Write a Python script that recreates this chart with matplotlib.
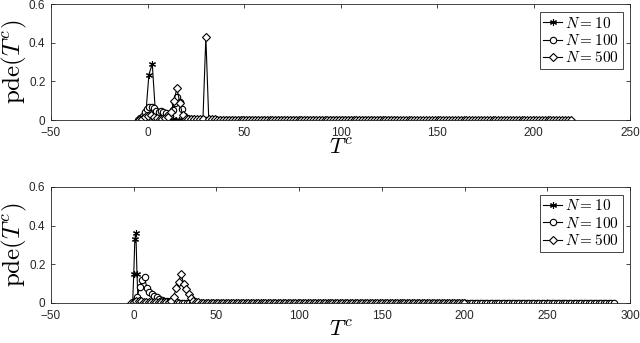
import numpy as np
import matplotlib
matplotlib.use('Agg')
import matplotlib.pyplot as plt

plt.rcParams['mathtext.fontset'] = 'cm'
plt.rcParams['font.family'] = ['Liberation Sans', 'DejaVu Sans']

# ---- top panel data (bin centres start / step / last, pdf values) ----
top_n10_x0, top_n10_dx, top_n10_end = -2.8, 1.75, 60
top_n10_vals = [0.0, 0.01, 0.235, 0.29, 0.02, 0.012, 0.008, 0.005, 0.004, 0.003]

top_n100_x0, top_n100_dx, top_n100_end = -5.0, 1.2, 130
top_n100_vals = [0.0, 0.01, 0.02, 0.04, 0.055, 0.065, 0.07, 0.06, 0.045, 0.04,
                 0.045, 0.04, 0.035, 0.025, 0.02, 0.05, 0.09, 0.12, 0.095, 0.055,
                 0.02, 0.01, 0.006, 0.004, 0.003]

top_n500_x0, top_n500_dx, top_n500_end = -4.3, 1.5, 220
top_n500_vals = [0.0, 0.005, 0.015, 0.02, 0.025, 0.015, 0.01, 0.008, 0.006, 0.01,
                 0.015, 0.04, 0.1, 0.164, 0.09, 0.025, 0.008, 0.005, 0.004, 0.004,
                 0.003, 0.003, 0.005, 0.43, 0.005, 0.003, 0.003]

# ---- bottom panel data ----
bot_n10_x = [-0.65, 0.0, 0.65, 1.3, 1.95, 2.6, 3.25]
bot_n10_vals = [0.0, 0.15, 0.33, 0.36, 0.15, 0.01, 0.004]
bot_n10_dx, bot_n10_end = 1.2, 80

bot_n100_x0, bot_n100_dx, bot_n100_end = -1.0, 1.5, 290
bot_n100_vals = [0.0, 0.01, 0.03, 0.08, 0.12, 0.133, 0.075, 0.058, 0.045, 0.035,
                 0.03, 0.02, 0.015, 0.01, 0.008, 0.006, 0.005, 0.004, 0.003]

bot_n500_x0, bot_n500_dx, bot_n500_end = -1.4, 1.5, 200
bot_n500_vals = [0.0, 0.005, 0.008, 0.01, 0.008, 0.006, 0.005, 0.004, 0.004, 0.004,
                 0.004, 0.004, 0.004, 0.004, 0.004, 0.005, 0.01, 0.03, 0.076, 0.11,
                 0.15, 0.1, 0.07, 0.045, 0.024, 0.01, 0.005, 0.003]

labels = [r'$N = 10$', r'$N = 100$', r'$N = 500$']
markers = [(6, 2, 0), 'o', 'D']
msizes = [5.0, 4.6, 3.6]


def series(x0, dx, end, vals):
    x = np.arange(x0, end + 1e-9, dx)
    y = np.zeros(len(x))
    y[:len(vals)] = vals
    return x, y


def style_axes(ax, xmax):
    ax.set_xlim(-50, xmax)
    ax.set_ylim(0, 0.6)
    ax.set_xticks(np.arange(-50, xmax + 1, 50))
    ax.set_yticks([0, 0.2, 0.4, 0.6])
    ax.set_yticklabels(['0', '0.2', '0.4', '0.6'])
    ax.tick_params(direction='in', top=True, right=True, labelsize=8.5,
                   length=3, width=0.6, colors='#262626')
    ax.tick_params(axis='x', pad=5)
    ax.tick_params(axis='y', pad=4)
    for s in ax.spines.values():
        s.set_color('#262626')
        s.set_linewidth(0.6)
    ax.set_xlabel(r'$T^c$', fontsize=16, labelpad=-1)
    ax.set_ylabel(r'$\mathrm{pde}(T^c)$', fontsize=18, labelpad=0)
    leg = ax.legend(loc='upper right', fontsize=11, handlelength=1.2,
                    handletextpad=0.2, borderpad=0.25, labelspacing=0.15,
                    borderaxespad=0.5, fancybox=False, framealpha=1)
    leg.get_frame().set_edgecolor('#262626')
    leg.get_frame().set_linewidth(0.6)


fig = plt.figure(figsize=(6.4, 3.43), dpi=100)
ax1 = fig.add_axes([0.0797, 0.650, 0.905, 0.338])
ax2 = fig.add_axes([0.0797, 0.117, 0.905, 0.338])

top = [series(top_n10_x0, top_n10_dx, top_n10_end, top_n10_vals),
       series(top_n100_x0, top_n100_dx, top_n100_end, top_n100_vals),
       series(top_n500_x0, top_n500_dx, top_n500_end, top_n500_vals)]

x10 = np.concatenate([bot_n10_x, np.arange(bot_n10_x[-1] + bot_n10_dx, bot_n10_end, bot_n10_dx)])
y10 = np.zeros(len(x10))
y10[:len(bot_n10_vals)] = bot_n10_vals
bot = [(x10, y10),
       series(bot_n100_x0, bot_n100_dx, bot_n100_end, bot_n100_vals),
       series(bot_n500_x0, bot_n500_dx, bot_n500_end, bot_n500_vals)]

for ax, data, xmax in [(ax1, top, 250), (ax2, bot, 300)]:
    for (x, y), m, ms, lab in zip(data, markers, msizes, labels):
        ax.plot(x, y, color='black', lw=0.8, marker=m, ms=ms, mfc='white',
                mec='black', mew=0.8, label=lab)
    style_axes(ax, xmax)

fig.savefig('out.png', dpi=100)
